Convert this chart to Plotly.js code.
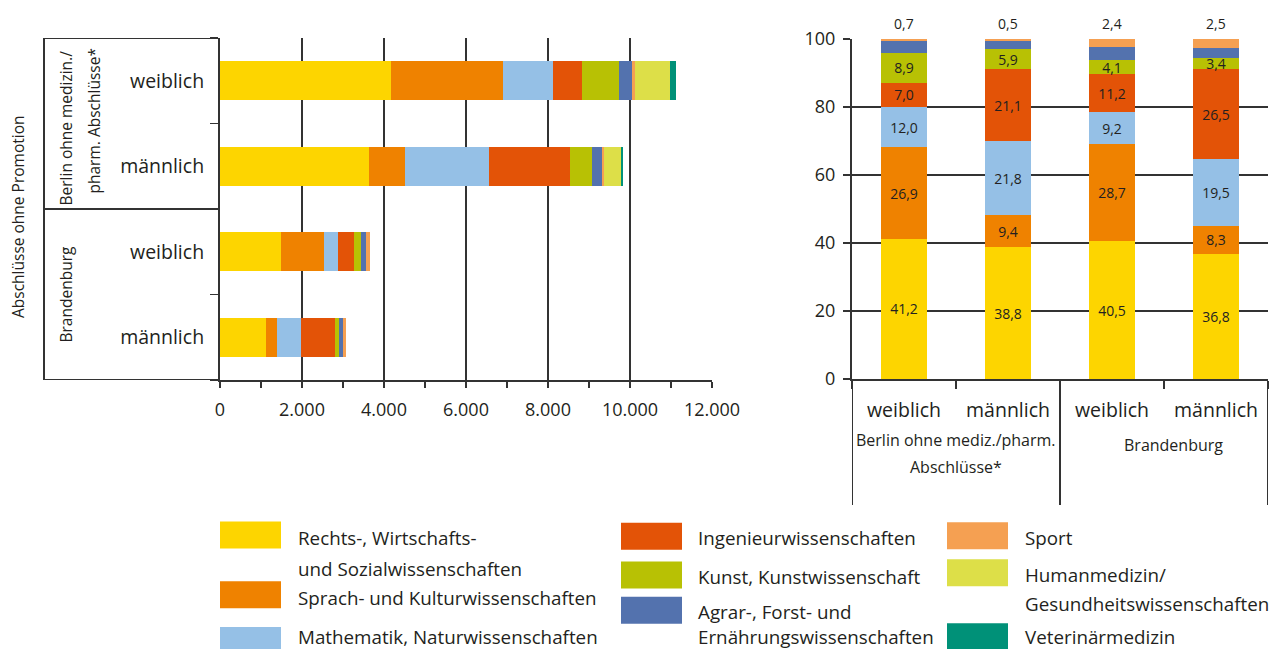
<!DOCTYPE html>
<html>
<head>
<meta charset="utf-8">
<script src="https://cdn.plot.ly/plotly-3.0.1.min.js"></script>
<style>html,body{margin:0;padding:0;background:#fff;}#chart{width:1271px;height:649px;}</style>
</head>
<body>
<div id="chart"></div>
<script>
// ---------- data ----------
const catIds = ['Berlin weiblich', 'Berlin männlich', 'Brandenburg weiblich', 'Brandenburg männlich'];
const sexLabels = ['weiblich', 'männlich', 'weiblich', 'männlich'];
const leftGroupLines = ['Berlin ohne medizin./', 'pharm. Abschlüsse*'];
const rightGroupLines = ['Berlin ohne mediz./pharm.', 'Abschlüsse*'];
const groupBB = 'Brandenburg';
const leftAxisTitle = 'Abschlüsse ohne Promotion';

const seriesNames = [
  ['Rechts-, Wirtschafts-', 'und Sozialwissenschaften'],
  ['Sprach- und Kulturwissenschaften'],
  ['Mathematik, Naturwissenschaften'],
  ['Ingenieurwissenschaften'],
  ['Kunst, Kunstwissenschaft'],
  ['Agrar-, Forst- und', 'Ernährungswissenschaften'],
  ['Sport'],
  ['Humanmedizin/', 'Gesundheitswissenschaften'],
  ['Veterinärmedizin']
];
const colors = ['#FDD500', '#EF8200', '#95C0E6', '#E35307', '#B8C104', '#5372AE', '#F5A052', '#DDDF48', '#009178'];

// absolute numbers (left chart)
const absRechts    = [4173, 3634, 1482, 1131];
const absSprach    = [2725,  880, 1050,  255];
const absMathe     = [1216, 2042,  337,  599];
const absIngenieur = [ 709, 1976,  410,  814];
const absKunst     = [ 902,  553,  150,  104];
const absAgrar     = [ 334,  234,  143,   92];
const absSport     = [  71,   47,   88,   77];
const absHumanmed  = [ 846,  415,    0,    0];
const absVet       = [ 146,   49,    0,    0];

// percentages (right chart)
const pctRechts    = [41.2, 38.8, 40.5, 36.8];
const pctSprach    = [26.9,  9.4, 28.7,  8.3];
const pctMathe     = [12.0, 21.8,  9.2, 19.5];
const pctIngenieur = [ 7.0, 21.1, 11.2, 26.5];
const pctKunst     = [ 8.9,  5.9,  4.1,  3.4];
const pctAgrar     = [ 3.3,  2.5,  3.9,  3.0];
const pctSport     = [ 0.7,  0.5,  2.4,  2.5];

// ---------- build ----------
const W = 1271, H = 649;
const px = v => v / W;
const py = v => 1 - v / H;
const TXT = '#231f20';
const LINE = '#333333';
const fmt = v => v.toFixed(1).replace('.', ',');

const absSeries = [absRechts, absSprach, absMathe, absIngenieur, absKunst, absAgrar, absSport, absHumanmed, absVet];
const pctSeries = [pctRechts, pctSprach, pctMathe, pctIngenieur, pctKunst, pctAgrar, pctSport];
const pctLabelled = [true, true, true, true, true, false, false];

const traces = [];
absSeries.forEach((vals, i) => {
  traces.push({
    type: 'bar', orientation: 'h', x: vals, y: catIds,
    xaxis: 'x', yaxis: 'y', width: 0.456,
    name: seriesNames[i].join(' '),
    marker: {color: colors[i], line: {width: 0}},
    showlegend: false, hoverinfo: 'skip'
  });
});
pctSeries.forEach((vals, i) => {
  traces.push({
    type: 'bar', x: catIds, y: vals,
    xaxis: 'x2', yaxis: 'y2', width: 0.45,
    name: seriesNames[i].join(' '),
    marker: {color: colors[i], line: {width: 0}},
    text: pctLabelled[i] ? vals.map(fmt) : undefined,
    textposition: pctLabelled[i] ? 'inside' : 'none',
    insidetextanchor: 'middle',
    constraintext: 'none',
    textangle: 0,
    textfont: {size: 14, color: TXT},
    showlegend: false, hoverinfo: 'skip'
  });
});

const shapes = [];
const annotations = [];

// left table lines
[-0.5, 1.5, 3.5].forEach(v => {
  shapes.push({type: 'line', xref: 'paper', yref: 'y', x0: px(44), x1: px(220), y0: v, y1: v,
    line: {color: LINE, width: 2}});
});
shapes.push({type: 'line', xref: 'paper', yref: 'y', x0: px(44), x1: px(44), y0: -0.5, y1: 3.5,
  line: {color: LINE, width: 2}});

// right table lines
[-0.5, 1.5, 3.5].forEach(v => {
  shapes.push({type: 'line', xref: 'x2', yref: 'paper', x0: v, x1: v, y0: py(379), y1: py(505),
    line: {color: LINE, width: 2}});
});

// left labels
const rotFont = {size: 15.5, color: TXT};
annotations.push({xref: 'paper', yref: 'y', x: px(18), y: 1.5, yshift: -8, xanchor: 'center', yanchor: 'middle',
  text: leftAxisTitle, textangle: -90, showarrow: false, font: rotFont});
annotations.push({xref: 'paper', yref: 'y', x: px(65), y: -0.5, xanchor: 'center', yanchor: 'top', yshift: -11,
  text: leftGroupLines[0], textangle: -90, showarrow: false, font: rotFont});
annotations.push({xref: 'paper', yref: 'y', x: px(93), y: -0.5, xanchor: 'center', yanchor: 'top', yshift: -9,
  text: leftGroupLines[1], textangle: -90, showarrow: false, font: rotFont});
annotations.push({xref: 'paper', yref: 'y', x: px(65), y: 2.5, xanchor: 'center', yanchor: 'middle',
  text: groupBB, textangle: -90, showarrow: false, font: rotFont});

// right group labels
annotations.push({xref: 'x2', yref: 'paper', x: 0.5, y: py(453), xanchor: 'center', text: rightGroupLines[0],
  showarrow: false, font: {size: 16, color: TXT}});
annotations.push({xref: 'x2', yref: 'paper', x: 0.5, y: py(480), xanchor: 'center', text: rightGroupLines[1],
  showarrow: false, font: {size: 16, color: TXT}});
annotations.push({xref: 'x2', yref: 'paper', x: 2.5, xshift: 9, y: py(458), xanchor: 'center', text: groupBB,
  showarrow: false, font: {size: 16, color: TXT}});

// sport values above the stacks
catIds.forEach((c, j) => {
  const total = Math.round(pctSeries.reduce((s, arr) => s + arr[j], 0) * 10) / 10;
  annotations.push({xref: 'x2', yref: 'y2', x: c, y: total, xanchor: 'center', yanchor: 'middle', yshift: 15,
    text: fmt(pctSport[j]), showarrow: false, font: {size: 14, color: TXT}});
});

// legend (manual, three columns)
const legendLayout = [
  {sx: 220, sy: 521.5, tx: 296, ty: [537.5, 568.5]},
  {sx: 220, sy: 581.3, tx: 296, ty: [597.8]},
  {sx: 220, sy: 627,   tx: 296, ty: [636.5]},
  {sx: 621, sy: 522.7, tx: 696, ty: [537.5]},
  {sx: 621, sy: 561.6, tx: 696, ty: [577]},
  {sx: 621, sy: 596.8, tx: 696, ty: [611.5, 636.5]},
  {sx: 947, sy: 522.3, tx: 1023, ty: [537.7]},
  {sx: 947, sy: 559.3, tx: 1023, ty: [575, 604.3]},
  {sx: 947, sy: 623.3, tx: 1023, ty: [636.5]}
];
legendLayout.forEach((L, i) => {
  shapes.push({type: 'rect', xref: 'paper', yref: 'paper', x0: px(L.sx), x1: px(L.sx + 61),
    y0: py(L.sy), y1: py(L.sy + 27), fillcolor: colors[i], line: {width: 0}});
  seriesNames[i].forEach((line, k) => {
    annotations.push({xref: 'paper', yref: 'paper', x: px(L.tx), y: py(L.ty[k]), xanchor: 'left',
      yanchor: 'middle', text: line, showarrow: false, font: {size: 18.8, color: TXT}});
  });
});

const layout = {
  width: W, height: H,
  margin: {l: 0, r: 0, t: 0, b: 0},
  paper_bgcolor: '#fff', plot_bgcolor: '#fff',
  font: {family: 'Open Sans, sans-serif', color: TXT},
  barmode: 'stack',
  separators: ',.',
  showlegend: false,
  xaxis: {
    domain: [px(220), px(712)], anchor: 'y', range: [0, 12000],
    tick0: 0, dtick: 2000, tickformat: ',d', separatethousands: true,
    ticks: 'outside', ticklen: 6, tickwidth: 1.5, tickcolor: LINE,
    minor: {dtick: 1000, ticks: 'outside', ticklen: 6, tickwidth: 1.5, tickcolor: LINE, showgrid: false},
    showgrid: true, gridcolor: LINE, gridwidth: 1.5,
    showline: true, linecolor: LINE, linewidth: 2, zeroline: false,
    tickfont: {size: 18, color: TXT}, ticklabelstandoff: 6, fixedrange: true
  },
  yaxis: {
    domain: [py(380), py(38)], anchor: 'x', type: 'category',
    categoryorder: 'array', categoryarray: catIds, range: [3.5, -0.5],
    tickmode: 'array', tickvals: catIds, ticktext: sexLabels,
    tickson: 'boundaries', ticks: 'outside', ticklen: 8, tickwidth: 1.5, tickcolor: LINE,
    showgrid: false, showline: true, linecolor: LINE, linewidth: 2, zeroline: false,
    tickfont: {size: 19.5, color: TXT}, ticklabelstandoff: 10, fixedrange: true
  },
  xaxis2: {
    domain: [px(852), px(1268)], anchor: 'y2', type: 'category',
    categoryorder: 'array', categoryarray: catIds, range: [-0.5, 3.5],
    tickmode: 'array', tickvals: catIds, ticktext: sexLabels,
    tickson: 'boundaries', ticks: 'outside', ticklen: 8, tickwidth: 1.5, tickcolor: LINE,
    showgrid: false, showline: true, linecolor: LINE, linewidth: 2, zeroline: false,
    tickfont: {size: 19.5, color: TXT}, ticklabelstandoff: 13, fixedrange: true
  },
  yaxis2: {
    domain: [py(379), py(39)], anchor: 'x2', range: [0, 100], dtick: 20,
    ticks: 'outside', ticklen: 7, tickwidth: 1.5, tickcolor: LINE,
    showgrid: true, gridcolor: LINE, gridwidth: 1.5,
    showline: true, linecolor: LINE, linewidth: 2, zeroline: false,
    tickfont: {size: 18, color: TXT}, ticklabelstandoff: 4, fixedrange: true
  },
  shapes: shapes,
  annotations: annotations
};

Plotly.newPlot('chart', traces, layout, {displayModeBar: false, staticPlot: true});
</script>
</body>
</html>
